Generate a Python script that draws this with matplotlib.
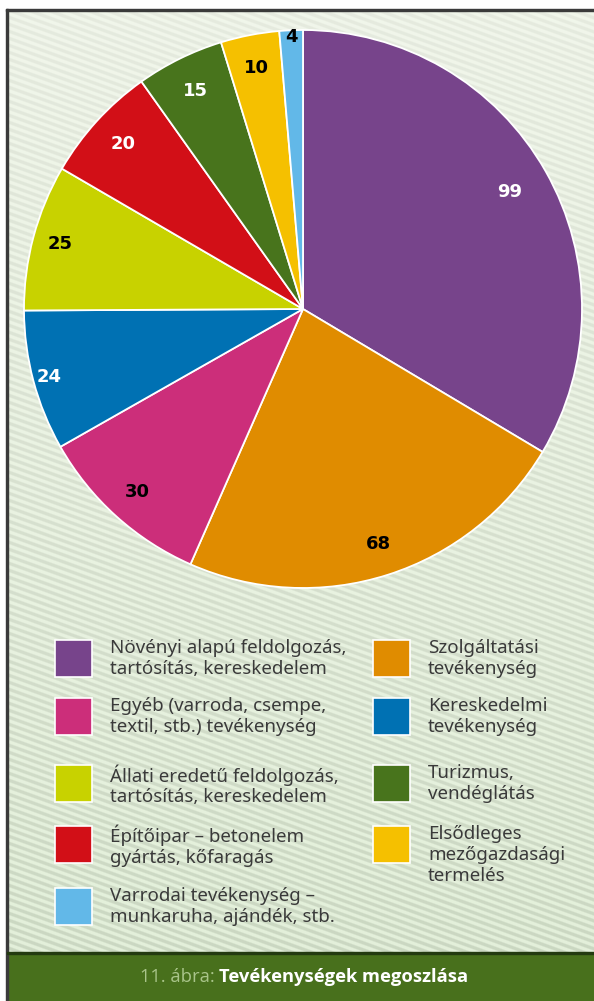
import matplotlib.pyplot as plt
import numpy as np
from matplotlib.patches import Rectangle

W, H = 594, 1001

# data, clockwise from 12 o'clock
values = [99, 68, 30, 24, 25, 20, 15, 10, 4]
names = [
    "Növényi alapú feldolgozás,\ntartósítás, kereskedelem",
    "Szolgáltatási\ntevékenység",
    "Egyéb (varroda, csempe,\ntextil, stb.) tevékenység",
    "Kereskedelmi\ntevékenység",
    "Állati eredetű feldolgozás,\ntartósítás, kereskedelem",
    "Építőipar – betonelem\ngyártás, kőfaragás",
    "Turizmus,\nvendéglátás",
    "Elsődleges\nmezőgazdasági\ntermelés",
    "Varrodai tevékenység –\nmunkaruha, ajándék, stb.",
]
colors = ["#77448b", "#e08c00", "#cc2e7a", "#0071b3", "#c8d200",
          "#d20f17", "#48741c", "#f5c000", "#62b8e8"]
# order of the slices in the legend (read row by row)
legend_order = [0, 1, 2, 3, 4, 6, 5, 7, 8]
caption_a = "11. ábra: "
caption_b = "Tevékenységek megoszlása"

# label styling (per slice)
label_colors = ["white", "black", "black", "white", "black", "white", "white", "black", "black"]
label_r = [0.85, 0.885, 0.885, 0.94, 0.90, 0.875, 0.87, 0.88, 0.975]


def fx(px):
    return px / W


def fy(py):
    return 1 - py / H


fig = plt.figure(figsize=(W / 100, H / 100), dpi=100)
fig.patch.set_facecolor("white")

# striped background panel
x0, y0, x1, y1 = 7, 11, 597, 953
bg = fig.add_axes([fx(x0), fy(y1), fx(x1 - x0), (y1 - y0) / H])
bg.set_axis_off()
yy, xx = np.mgrid[0:y1 - y0, 0:x1 - x0]
t = yy / (y1 - y0)
top = np.array([0.900, 0.920, 0.875])
bot = np.array([0.795, 0.845, 0.760])
base = top[None, None, :] * (1 - t[..., None]) + bot[None, None, :] * t[..., None]
s = np.clip(1.6 * np.sin(2 * np.pi * (yy - 0.36 * xx) / 7.0), -1, 1) * 0.5 + 0.5
amp = 0.045 + 0.05 * t
img = np.clip(base + (s * amp)[..., None], 0, 1)
bg.imshow(img, aspect="auto", interpolation="bilinear", extent=(0, 1, 0, 1))
bg.set_xlim(0, 1)
bg.set_ylim(0, 1)

# frame lines
fig.patches.append(Rectangle((fx(6), fy(11)), fx(590), 2 / H, transform=fig.transFigure,
                             color="#3a3a3a", zorder=5))
fig.patches.append(Rectangle((fx(6), 0), fx(1.5), fy(9), transform=fig.transFigure,
                             color="#3a3a3a", zorder=5))
# caption band
fig.patches.append(Rectangle((fx(7), 0), fx(590), (H - 953) / H, transform=fig.transFigure,
                             color="#48701c", zorder=4))
fig.patches.append(Rectangle((fx(7), fy(954)), fx(590), 2 / H, transform=fig.transFigure,
                             color="#233a10", zorder=5))

# pie
cx, cy, R = 303, 309, 279
ax = fig.add_axes([fx(cx - R), fy(cy + R), fx(2 * R), 2 * R / H])
ax.set_axis_off()
wedges, _ = ax.pie(values, colors=colors, startangle=90, counterclock=False,
                   radius=1, wedgeprops=dict(edgecolor="white", linewidth=1.3))
ax.set_xlim(-1, 1)
ax.set_ylim(-1, 1)
for w, v, c, r in zip(wedges, values, label_colors, label_r):
    a = np.deg2rad((w.theta1 + w.theta2) / 2)
    ax.text(r * np.cos(a), r * np.sin(a), str(v), ha="center", va="center",
            color=c, fontsize=13, fontweight="bold", family="DejaVu Sans")

# legend
row_tops = [640, 698, 765, 826, 888]
col_x = [55, 373]
for k, idx in enumerate(legend_order):
    row, col = k // 2, k % 2
    sx, sy = col_x[col], row_tops[row]
    fig.patches.append(Rectangle((fx(sx), fy(sy + 37)), fx(37), 37 / H,
                                 transform=fig.transFigure, facecolor=colors[idx],
                                 edgecolor="white", linewidth=1.2, zorder=6))
    fig.text(fx(sx + 55), fy(sy - 1), names[idx], ha="left", va="top",
             fontsize=13.5, color="#3a3a3a", family="Noto Sans", linespacing=1.2,
             zorder=6)

# caption
fig.canvas.draw()
rend = fig.canvas.get_renderer()
ta = fig.text(0, fy(977), caption_a, ha="left", va="center", fontsize=13.2,
              color="#a9c48a", family="Open Sans", zorder=7)
tb = fig.text(0, fy(977), caption_b, ha="left", va="center", fontsize=13.2,
              color="white", family="Open Sans", fontweight="bold", zorder=7)
wa = ta.get_window_extent(rend).width
wb = tb.get_window_extent(rend).width
start = 304 - (wa + wb) / 2
ta.set_x(fx(start))
tb.set_x(fx(start + wa))

fig.savefig("out.png", dpi=100)
